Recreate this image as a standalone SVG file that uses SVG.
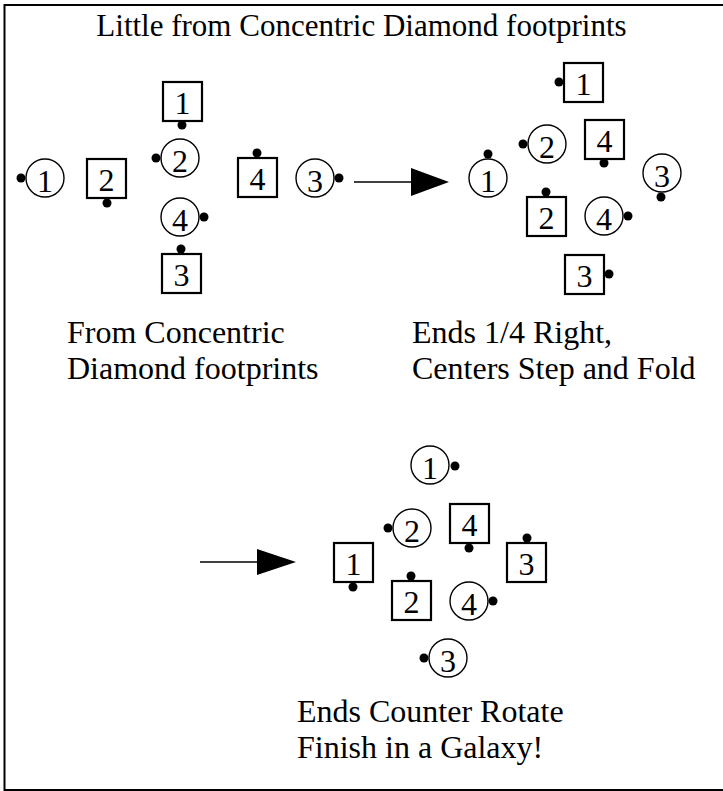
<svg xmlns="http://www.w3.org/2000/svg" width="723" height="791" viewBox="0 0 723 791">
<style>
text{font-family:"Liberation Serif","Times New Roman",serif;font-size:32px;fill:#000}
.title{font-size:31px;text-anchor:middle}
.num{text-anchor:middle}
.sq{fill:#fff;stroke:#000;stroke-width:2.2}
.ci{fill:#fff;stroke:#000;stroke-width:1.4}
.dot{fill:#000}
.ln{stroke:#000;stroke-width:1.3;fill:none}
.hd{fill:#000}
</style>
<rect x="0" y="0" width="723" height="791" fill="#fff"/>
<rect id="frame" x="4.5" y="5" width="720" height="785" fill="none" stroke="#000" stroke-width="2"/>
<text x="361.5" y="36" class="title">Little from Concentric Diamond footprints</text>

<g id="connectors">
<line class="ln" x1="354" y1="182" x2="412" y2="182"/>
<polygon class="hd" points="411,168 449,182 411,196"/>
<line class="ln" x1="200" y1="562" x2="258" y2="562"/>
<polygon class="hd" points="257,549 296,562 257,575"/>
</g>

<!-- Panel 1 -->
<g id="p1-c1"><circle class="ci" cx="45" cy="178" r="19"/><circle class="dot" cx="21" cy="178" r="4.5"/><text class="num" x="45" y="192">1</text></g>
<g id="p1-s2"><rect class="sq" x="87" y="159" width="39" height="39"/><circle class="dot" cx="107" cy="203" r="4.5"/><text class="num" x="106.5" y="191">2</text></g>
<g id="p1-s1"><rect class="sq" x="163" y="82" width="39" height="39"/><circle class="dot" cx="182" cy="125" r="4.5"/><text class="num" x="182.5" y="114">1</text></g>
<g id="p1-c2"><circle class="ci" cx="180" cy="158" r="19"/><circle class="dot" cx="156" cy="158" r="4.5"/><text class="num" x="180" y="172">2</text></g>
<g id="p1-c4"><circle class="ci" cx="180" cy="217" r="19"/><circle class="dot" cx="204" cy="217" r="4.5"/><text class="num" x="180" y="231">4</text></g>
<g id="p1-s3"><rect class="sq" x="162" y="254" width="39" height="39"/><circle class="dot" cx="181" cy="249" r="4.5"/><text class="num" x="181.5" y="286">3</text></g>
<g id="p1-s4"><rect class="sq" x="238" y="158" width="39" height="39"/><circle class="dot" cx="257" cy="153" r="4.5"/><text class="num" x="257.5" y="190">4</text></g>
<g id="p1-c3"><circle class="ci" cx="315" cy="178" r="19"/><circle class="dot" cx="339" cy="178" r="4.5"/><text class="num" x="315" y="192">3</text></g>
<g id="p1-caption"><text x="67" y="343">From Concentric</text><text x="67" y="379">Diamond footprints</text></g>

<!-- Panel 2 -->
<g id="p2-c1"><circle class="ci" cx="488" cy="178" r="19"/><circle class="dot" cx="488" cy="154" r="4.5"/><text class="num" x="488" y="192">1</text></g>
<g id="p2-c2"><circle class="ci" cx="547" cy="144" r="19"/><circle class="dot" cx="523" cy="144" r="4.5"/><text class="num" x="547" y="158">2</text></g>
<g id="p2-s1"><rect class="sq" x="564" y="63" width="39" height="39"/><circle class="dot" cx="559" cy="82" r="4.5"/><text class="num" x="583.5" y="95">1</text></g>
<g id="p2-s4"><rect class="sq" x="585" y="120" width="39" height="39"/><circle class="dot" cx="604" cy="163" r="4.5"/><text class="num" x="604.5" y="152">4</text></g>
<g id="p2-c3"><circle class="ci" cx="662" cy="173" r="19"/><circle class="dot" cx="661" cy="197" r="4.5"/><text class="num" x="662" y="187">3</text></g>
<g id="p2-s2"><rect class="sq" x="527" y="197" width="39" height="39"/><circle class="dot" cx="546" cy="192" r="4.5"/><text class="num" x="546.5" y="229">2</text></g>
<g id="p2-c4"><circle class="ci" cx="604" cy="216" r="19"/><circle class="dot" cx="628" cy="216" r="4.5"/><text class="num" x="604" y="230">4</text></g>
<g id="p2-s3"><rect class="sq" x="565" y="255" width="39" height="39"/><circle class="dot" cx="609" cy="274" r="4.5"/><text class="num" x="584.5" y="287">3</text></g>
<g id="p2-caption"><text x="412" y="343">Ends 1/4 Right,</text><text x="412" y="379">Centers Step and Fold</text></g>

<!-- Panel 3 -->
<g id="p3-c1"><circle class="ci" cx="430" cy="465" r="19"/><circle class="dot" cx="455" cy="466" r="4.5"/><text class="num" x="430" y="479">1</text></g>
<g id="p3-c2"><circle class="ci" cx="412" cy="528" r="19"/><circle class="dot" cx="388" cy="528" r="4.5"/><text class="num" x="412" y="542">2</text></g>
<g id="p3-s4"><rect class="sq" x="450" y="504" width="39" height="39"/><circle class="dot" cx="469" cy="548" r="4.5"/><text class="num" x="469.5" y="536">4</text></g>
<g id="p3-s1"><rect class="sq" x="334" y="543" width="39" height="39"/><circle class="dot" cx="353" cy="587" r="4.5"/><text class="num" x="353.5" y="575">1</text></g>
<g id="p3-s3"><rect class="sq" x="507" y="543" width="39" height="39"/><circle class="dot" cx="527" cy="538" r="4.5"/><text class="num" x="526.5" y="575">3</text></g>
<g id="p3-s2"><rect class="sq" x="392" y="581" width="39" height="39"/><circle class="dot" cx="411" cy="576" r="4.5"/><text class="num" x="411.5" y="613">2</text></g>
<g id="p3-c4"><circle class="ci" cx="469" cy="601" r="19"/><circle class="dot" cx="493" cy="601" r="4.5"/><text class="num" x="469" y="615">4</text></g>
<g id="p3-c3"><circle class="ci" cx="448" cy="658" r="19"/><circle class="dot" cx="424" cy="658" r="4.5"/><text class="num" x="448" y="672">3</text></g>
<g id="p3-caption"><text x="297" y="722">Ends Counter Rotate</text><text x="297" y="758">Finish in a Galaxy!</text></g>
</svg>
